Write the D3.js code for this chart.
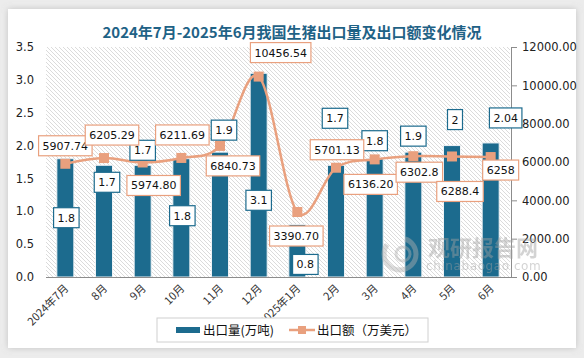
<!DOCTYPE html>
<html lang="zh">
<head>
<meta charset="UTF-8">
<title>2024年7月-2025年6月我国生猪出口量及出口额变化情况</title>
<script src="https://d3js.org/d3.v7.min.js"></script>
<style>
  html, body { margin: 0; padding: 0; background: #ececec; }
  svg { display: block; }
  text { font-family: "DejaVu Sans", Verdana, sans-serif; }
  .cjk { font-family: "Noto Sans CJK SC", "Noto Sans", sans-serif; }
</style>
</head>
<body>
<svg width="584" height="358"></svg>
<script>
// data
const months = ["2024年7月", "8月", "9月", "10月", "11月", "12月", "2025年1月", "2月", "3月", "4月", "5月", "6月"];
const volume = [1.8, 1.7, 1.7, 1.8, 1.9, 3.1, 0.8, 1.7, 1.8, 1.9, 2, 2.04];          // 万吨
const amount = [5907.74, 6205.29, 5974.80, 6211.69, 6840.73, 10456.54, 3390.70, 5701.13, 6136.20, 6302.8, 6288.4, 6258]; // 万美元
const amountText = ["5907.74", "6205.29", "5974.80", "6211.69", "6840.73", "10456.54", "3390.70", "5701.13", "6136.20", "6302.8", "6288.4", "6258"];
const leftTicks = [0, 0.5, 1, 1.5, 2, 2.5, 3, 3.5];
const rightTicks = [0, 2000, 4000, 6000, 8000, 10000, 12000];

// label nudges (px, relative to bar top / line point)
const volNudge = [[1, 59], [3, 17], [0, -15], [1, 57], [4, -22], [0, 127], [8, 40], [-1, -47], [0, -18], [0, -16], [3, -26], [15, -25]];
const amtNudge = [[0, -18], [8, -23], [11, 23], [1, -23], [13, 20], [22, -24], [-1, 24], [1, -18], [-4, 25], [6, 16], [8, 35], [10, 13]];

const barColor = "#1c6b8e";
const lineColor = "#e9a07e";

const svg = d3.select("svg");

// card
const defs = svg.append("defs");
const sh = defs.append("filter").attr("id", "shadow").attr("x", "-5%").attr("y", "-5%").attr("width", "110%").attr("height", "110%");
sh.append("feDropShadow").attr("dx", 0).attr("dy", 0).attr("stdDeviation", 3).attr("flood-color", "#999").attr("flood-opacity", 0.5);
svg.append("rect").attr("x", 8).attr("y", 9).attr("width", 568).attr("height", 339)
  .attr("fill", "#fff").attr("filter", "url(#shadow)");

// hatch pattern for plot area
const pat = defs.append("pattern").attr("id", "hatch").attr("patternUnits", "userSpaceOnUse")
  .attr("width", 4).attr("height", 4);
pat.append("rect").attr("width", 4).attr("height", 4).attr("fill", "#fff");
pat.append("path").attr("d", "M0,0 L4,4 M-1,3 L1,5 M3,-1 L5,1")
  .attr("stroke", "#d2d2d2").attr("stroke-width", 0.8);

const margin = { left: 46, right: 74, top: 47, bottom: 81 };
const W = 584, H = 358;
const x0 = margin.left, x1 = W - margin.right, yTop = margin.top, yBot = H - margin.bottom;

const x = d3.scaleBand().domain(months).range([x0, x1]).paddingInner(0.56).paddingOuter(0.28);
const yL = d3.scaleLinear().domain([0, 3.5]).range([yBot, yTop]);
const yR = d3.scaleLinear().domain([0, 12000]).range([yBot, yTop]);
const cx = d => x(d) + x.bandwidth() / 2;

svg.append("rect").attr("x", x0).attr("y", yTop).attr("width", x1 - x0).attr("height", yBot - yTop)
  .attr("fill", "url(#hatch)");

// title
svg.append("text").attr("class", "cjk")
  .attr("x", 292).attr("y", 38).attr("text-anchor", "middle")
  .attr("font-size", 15).attr("font-weight", "bold").attr("fill", "#1f6286")
  .text("2024年7月-2025年6月我国生猪出口量及出口额变化情况");

// left axis
const gl = svg.append("g").attr("transform", `translate(${x0},0)`)
  .call(d3.axisLeft(yL).tickValues(leftTicks).tickFormat(d3.format(".1f")).tickSize(0).tickPadding(12));
gl.select(".domain").remove();
gl.selectAll("text").attr("font-size", 11.5).attr("fill", "#222").style("font-family", "DejaVu Sans, sans-serif");

// right axis
const gr = svg.append("g").attr("transform", `translate(${x1 + 1},0)`)
  .call(d3.axisRight(yR).tickValues(rightTicks).tickFormat(d3.format(".2f")).tickSize(6).tickPadding(5));
gr.select(".domain").attr("stroke", "#8c8c8c");
gr.selectAll("line").attr("stroke", "#8c8c8c");
gr.selectAll("text").attr("font-size", 11.5).attr("fill", "#222").style("font-family", "DejaVu Sans, sans-serif");

// bars
svg.append("g").selectAll("rect").data(months).join("rect")
  .attr("x", d => x(d)).attr("width", x.bandwidth())
  .attr("y", (d, i) => yL(volume[i])).attr("height", (d, i) => yBot - yL(volume[i]))
  .attr("fill", barColor).attr("stroke", "#eef2f5").attr("stroke-width", 1);

// bottom axis
const gb = svg.append("g").attr("transform", `translate(0,${yBot})`)
  .call(d3.axisBottom(x).tickSize(0).tickPadding(0));
gb.select(".domain").attr("stroke", "#8c8c8c").attr("d", `M${x0},0.5H${x1 + 1}`);
gb.selectAll("text").attr("class", "cjk").attr("font-size", 11).attr("fill", "#333")
  .attr("text-anchor", "end").attr("dy", 0)
  .attr("transform", "translate(4,12) rotate(-45)");

// watermark, translucent over the bars
const wm = svg.append("g").attr("opacity", 0.45);
wm.append("circle").attr("cx", 400).attr("cy", 254).attr("r", 16)
  .attr("fill", "none").attr("stroke", "#b0b0b0").attr("stroke-width", 5).attr("stroke-dasharray", "60 20");
wm.append("circle").attr("cx", 403).attr("cy", 254).attr("r", 7)
  .attr("fill", "none").attr("stroke", "#b0b0b0").attr("stroke-width", 3);
wm.append("text").attr("class", "cjk").attr("x", 428).attr("y", 256)
  .attr("font-size", 22).attr("font-weight", "bold").attr("fill", "#a0a0a0").text("观研报告网");
wm.append("text").attr("x", 426).attr("y", 270).attr("font-size", 12).attr("letter-spacing", 0.6)
  .attr("fill", "#a0a0a0").text("chinabaogao.com");

// line
const line = d3.line().x((d, i) => cx(months[i])).y(d => yR(d)).curve(d3.curveCardinal.tension(0));
svg.append("path").datum(amount).attr("d", line)
  .attr("fill", "none").attr("stroke", lineColor).attr("stroke-width", 2.5);
svg.append("g").selectAll("rect").data(amount).join("rect")
  .attr("x", (d, i) => cx(months[i]) - 5).attr("y", d => yR(d) - 5)
  .attr("width", 10).attr("height", 10).attr("fill", lineColor);

// data labels
function label(g, cxp, cyp, txt, color) {
  const t = g.append("text").attr("x", cxp).attr("y", cyp).attr("dy", "0.36em")
    .attr("text-anchor", "middle").attr("font-size", 11).attr("fill", "#111").text(txt);
  const bb = t.node().getBBox();
  g.insert("rect", "text").attr("x", bb.x - 4).attr("y", cyp - 10)
    .attr("width", bb.width + 8).attr("height", 20)
    .attr("fill", "#fff").attr("stroke", color).attr("stroke-width", 1.2);
}
const lbl = svg.append("g");
months.forEach((m, i) => {
  const gv = lbl.append("g");
  label(gv, cx(m) + volNudge[i][0], yL(volume[i]) + volNudge[i][1], String(volume[i]), barColor);
});
months.forEach((m, i) => {
  const ga = lbl.append("g");
  label(ga, cx(m) + amtNudge[i][0], yR(amount[i]) + amtNudge[i][1], amountText[i], lineColor);
});

// legend
const lg = svg.append("g");
lg.append("rect").attr("x", 157).attr("y", 318).attr("width", 271).attr("height", 24)
  .attr("fill", "#fff").attr("stroke", "#d0d0d0");
lg.append("rect").attr("x", 176).attr("y", 327).attr("width", 24).attr("height", 6).attr("fill", barColor);
lg.append("text").attr("class", "cjk").attr("x", 203).attr("y", 335).attr("font-size", 12.5)
  .attr("fill", "#111").text("出口量(万吨)");
lg.append("line").attr("x1", 289).attr("x2", 315).attr("y1", 330).attr("y2", 330)
  .attr("stroke", lineColor).attr("stroke-width", 2.5);
lg.append("rect").attr("x", 298).attr("y", 326).attr("width", 8).attr("height", 8).attr("fill", lineColor);
lg.append("text").attr("class", "cjk").attr("x", 317).attr("y", 335).attr("font-size", 12.5)
  .attr("fill", "#111").text("出口额（万美元）");
</script>
</body>
</html>
